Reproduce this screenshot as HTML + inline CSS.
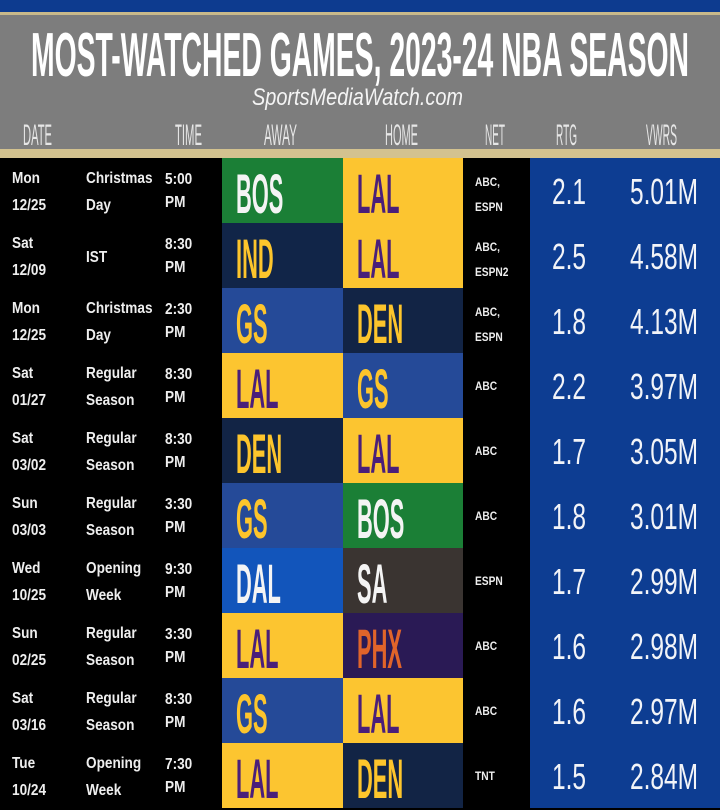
<!DOCTYPE html>
<html><head><meta charset="utf-8"><style>
*{margin:0;padding:0;box-sizing:border-box}
body{width:720px;height:808px;background:#000;position:relative;overflow:hidden;font-family:"Liberation Sans",sans-serif}
.a{position:absolute;white-space:nowrap}
.s{font-size:16px;line-height:16px;color:#eee;transform:scaleX(.85);transform-origin:left top;font-weight:600}
.n{font-size:12px;line-height:12px;color:#eee;transform:scaleX(.85);transform-origin:left top;font-weight:600}
.t{font-size:56px;line-height:56px;transform:scaleX(.39);transform-origin:left top;font-weight:bold}
.v{font-size:36px;line-height:36px;color:#f2f4f8;transform:scaleX(.68);transform-origin:center top;text-align:center}
.c{position:absolute;height:65px}
.r{position:absolute;left:0;width:720px;height:65px}
.y{color:#fdc52c}.p{color:#4a1f7a}.w{color:#f4f4f4}.o{color:#e0642a}
.bY{background:#fcc530}.bG{background:#1b7f36}.bI{background:#112548}.bW{background:#254a98}.bD{background:#122445}.bL{background:#1255bb}.bS{background:#3a3431}.bP{background:#2a1a55}
</style></head><body>
<div class="a" style="left:0;top:0;width:720px;height:12px;background:#0d3b8f"></div>
<div class="a" style="left:0;top:12px;width:720px;height:3px;background:#c9b98a"></div>
<div class="a" style="left:0;top:15px;width:720px;height:134px;background:#7d7d7d"></div>
<div class="a" style="left:0;top:149px;width:720px;height:9px;background:#d3c28f"></div>
<div class="a" style="left:530px;top:158px;width:190px;height:650px;background:#0d3d92"></div>
<svg class="a" style="left:0;top:0" width="720" height="158">
<text x="31" y="76" font-size="62" font-weight="bold" fill="#fff" textLength="658" lengthAdjust="spacingAndGlyphs" font-family="Liberation Sans">MOST-WATCHED GAMES, 2023-24 NBA SEASON</text>
<text x="252" y="105" font-size="24" fill="#f4f4f4" font-style="italic" textLength="211" lengthAdjust="spacingAndGlyphs" font-family="Liberation Sans">SportsMediaWatch.com</text>
<g font-size="30" fill="#e6e6e6" font-family="Liberation Sans">
<text x="23" y="145" textLength="29" lengthAdjust="spacingAndGlyphs">DATE</text>
<text x="175" y="145" textLength="27" lengthAdjust="spacingAndGlyphs">TIME</text>
<text x="264" y="145" textLength="33" lengthAdjust="spacingAndGlyphs">AWAY</text>
<text x="385" y="145" textLength="33" lengthAdjust="spacingAndGlyphs">HOME</text>
<text x="485" y="145" textLength="20" lengthAdjust="spacingAndGlyphs">NET</text>
<text x="556" y="145" textLength="21" lengthAdjust="spacingAndGlyphs">RTG</text>
<text x="646" y="145" textLength="31" lengthAdjust="spacingAndGlyphs">VWRS</text>
</g></svg>

<div class="r" style="top:158px">
<div class="a s" style="left:12px;top:13px">Mon</div><div class="a s" style="left:12px;top:40px">12/25</div>
<div class="a s" style="left:86px;top:13px">Christmas</div><div class="a s" style="left:86px;top:40px">Day</div>
<div class="a s" style="left:165px;top:14px">5:00</div><div class="a s" style="left:165px;top:37px">PM</div>
<div class="c bG" style="left:222px;width:121px"></div><div class="a t w" style="left:236px;top:8px">BOS</div>
<div class="c bY" style="left:343px;width:120px"></div><div class="a t p" style="left:357px;top:8px">LAL</div>
<div class="a n" style="left:475px;top:18px">ABC,</div><div class="a n" style="left:475px;top:43px">ESPN</div>
<div class="a v" style="left:529px;top:16px;width:80px">2.1</div><div class="a v" style="left:604px;top:16px;width:120px">5.01M</div>
</div>
<div class="r" style="top:223px">
<div class="a s" style="left:12px;top:13px">Sat</div><div class="a s" style="left:12px;top:40px">12/09</div>
<div class="a s" style="left:86px;top:27px">IST</div>
<div class="a s" style="left:165px;top:14px">8:30</div><div class="a s" style="left:165px;top:37px">PM</div>
<div class="c bI" style="left:222px;width:121px"></div><div class="a t y" style="left:236px;top:8px">IND</div>
<div class="c bY" style="left:343px;width:120px"></div><div class="a t p" style="left:357px;top:8px">LAL</div>
<div class="a n" style="left:475px;top:18px">ABC,</div><div class="a n" style="left:475px;top:43px">ESPN2</div>
<div class="a v" style="left:529px;top:16px;width:80px">2.5</div><div class="a v" style="left:604px;top:16px;width:120px">4.58M</div>
</div>
<div class="r" style="top:288px">
<div class="a s" style="left:12px;top:13px">Mon</div><div class="a s" style="left:12px;top:40px">12/25</div>
<div class="a s" style="left:86px;top:13px">Christmas</div><div class="a s" style="left:86px;top:40px">Day</div>
<div class="a s" style="left:165px;top:14px">2:30</div><div class="a s" style="left:165px;top:37px">PM</div>
<div class="c bW" style="left:222px;width:121px"></div><div class="a t y" style="left:236px;top:8px">GS</div>
<div class="c bD" style="left:343px;width:120px"></div><div class="a t y" style="left:357px;top:8px">DEN</div>
<div class="a n" style="left:475px;top:18px">ABC,</div><div class="a n" style="left:475px;top:43px">ESPN</div>
<div class="a v" style="left:529px;top:16px;width:80px">1.8</div><div class="a v" style="left:604px;top:16px;width:120px">4.13M</div>
</div>
<div class="r" style="top:353px">
<div class="a s" style="left:12px;top:13px">Sat</div><div class="a s" style="left:12px;top:40px">01/27</div>
<div class="a s" style="left:86px;top:13px">Regular</div><div class="a s" style="left:86px;top:40px">Season</div>
<div class="a s" style="left:165px;top:14px">8:30</div><div class="a s" style="left:165px;top:37px">PM</div>
<div class="c bY" style="left:222px;width:121px"></div><div class="a t p" style="left:236px;top:8px">LAL</div>
<div class="c bW" style="left:343px;width:120px"></div><div class="a t y" style="left:357px;top:8px">GS</div>
<div class="a n" style="left:475px;top:27px">ABC</div>
<div class="a v" style="left:529px;top:16px;width:80px">2.2</div><div class="a v" style="left:604px;top:16px;width:120px">3.97M</div>
</div>
<div class="r" style="top:418px">
<div class="a s" style="left:12px;top:13px">Sat</div><div class="a s" style="left:12px;top:40px">03/02</div>
<div class="a s" style="left:86px;top:13px">Regular</div><div class="a s" style="left:86px;top:40px">Season</div>
<div class="a s" style="left:165px;top:14px">8:30</div><div class="a s" style="left:165px;top:37px">PM</div>
<div class="c bD" style="left:222px;width:121px"></div><div class="a t y" style="left:236px;top:8px">DEN</div>
<div class="c bY" style="left:343px;width:120px"></div><div class="a t p" style="left:357px;top:8px">LAL</div>
<div class="a n" style="left:475px;top:27px">ABC</div>
<div class="a v" style="left:529px;top:16px;width:80px">1.7</div><div class="a v" style="left:604px;top:16px;width:120px">3.05M</div>
</div>
<div class="r" style="top:483px">
<div class="a s" style="left:12px;top:13px">Sun</div><div class="a s" style="left:12px;top:40px">03/03</div>
<div class="a s" style="left:86px;top:13px">Regular</div><div class="a s" style="left:86px;top:40px">Season</div>
<div class="a s" style="left:165px;top:14px">3:30</div><div class="a s" style="left:165px;top:37px">PM</div>
<div class="c bW" style="left:222px;width:121px"></div><div class="a t y" style="left:236px;top:8px">GS</div>
<div class="c bG" style="left:343px;width:120px"></div><div class="a t w" style="left:357px;top:8px">BOS</div>
<div class="a n" style="left:475px;top:27px">ABC</div>
<div class="a v" style="left:529px;top:16px;width:80px">1.8</div><div class="a v" style="left:604px;top:16px;width:120px">3.01M</div>
</div>
<div class="r" style="top:548px">
<div class="a s" style="left:12px;top:13px">Wed</div><div class="a s" style="left:12px;top:40px">10/25</div>
<div class="a s" style="left:86px;top:13px">Opening</div><div class="a s" style="left:86px;top:40px">Week</div>
<div class="a s" style="left:165px;top:14px">9:30</div><div class="a s" style="left:165px;top:37px">PM</div>
<div class="c bL" style="left:222px;width:121px"></div><div class="a t w" style="left:236px;top:8px">DAL</div>
<div class="c bS" style="left:343px;width:120px"></div><div class="a t w" style="left:357px;top:8px">SA</div>
<div class="a n" style="left:475px;top:27px">ESPN</div>
<div class="a v" style="left:529px;top:16px;width:80px">1.7</div><div class="a v" style="left:604px;top:16px;width:120px">2.99M</div>
</div>
<div class="r" style="top:613px">
<div class="a s" style="left:12px;top:13px">Sun</div><div class="a s" style="left:12px;top:40px">02/25</div>
<div class="a s" style="left:86px;top:13px">Regular</div><div class="a s" style="left:86px;top:40px">Season</div>
<div class="a s" style="left:165px;top:14px">3:30</div><div class="a s" style="left:165px;top:37px">PM</div>
<div class="c bY" style="left:222px;width:121px"></div><div class="a t p" style="left:236px;top:8px">LAL</div>
<div class="c bP" style="left:343px;width:120px"></div><div class="a t o" style="left:357px;top:8px">PHX</div>
<div class="a n" style="left:475px;top:27px">ABC</div>
<div class="a v" style="left:529px;top:16px;width:80px">1.6</div><div class="a v" style="left:604px;top:16px;width:120px">2.98M</div>
</div>
<div class="r" style="top:678px">
<div class="a s" style="left:12px;top:13px">Sat</div><div class="a s" style="left:12px;top:40px">03/16</div>
<div class="a s" style="left:86px;top:13px">Regular</div><div class="a s" style="left:86px;top:40px">Season</div>
<div class="a s" style="left:165px;top:14px">8:30</div><div class="a s" style="left:165px;top:37px">PM</div>
<div class="c bW" style="left:222px;width:121px"></div><div class="a t y" style="left:236px;top:8px">GS</div>
<div class="c bY" style="left:343px;width:120px"></div><div class="a t p" style="left:357px;top:8px">LAL</div>
<div class="a n" style="left:475px;top:27px">ABC</div>
<div class="a v" style="left:529px;top:16px;width:80px">1.6</div><div class="a v" style="left:604px;top:16px;width:120px">2.97M</div>
</div>
<div class="r" style="top:743px">
<div class="a s" style="left:12px;top:13px">Tue</div><div class="a s" style="left:12px;top:40px">10/24</div>
<div class="a s" style="left:86px;top:13px">Opening</div><div class="a s" style="left:86px;top:40px">Week</div>
<div class="a s" style="left:165px;top:14px">7:30</div><div class="a s" style="left:165px;top:37px">PM</div>
<div class="c bY" style="left:222px;width:121px"></div><div class="a t p" style="left:236px;top:8px">LAL</div>
<div class="c bD" style="left:343px;width:120px"></div><div class="a t y" style="left:357px;top:8px">DEN</div>
<div class="a n" style="left:475px;top:27px">TNT</div>
<div class="a v" style="left:529px;top:16px;width:80px">1.5</div><div class="a v" style="left:604px;top:16px;width:120px">2.84M</div>
</div>
</body></html>
